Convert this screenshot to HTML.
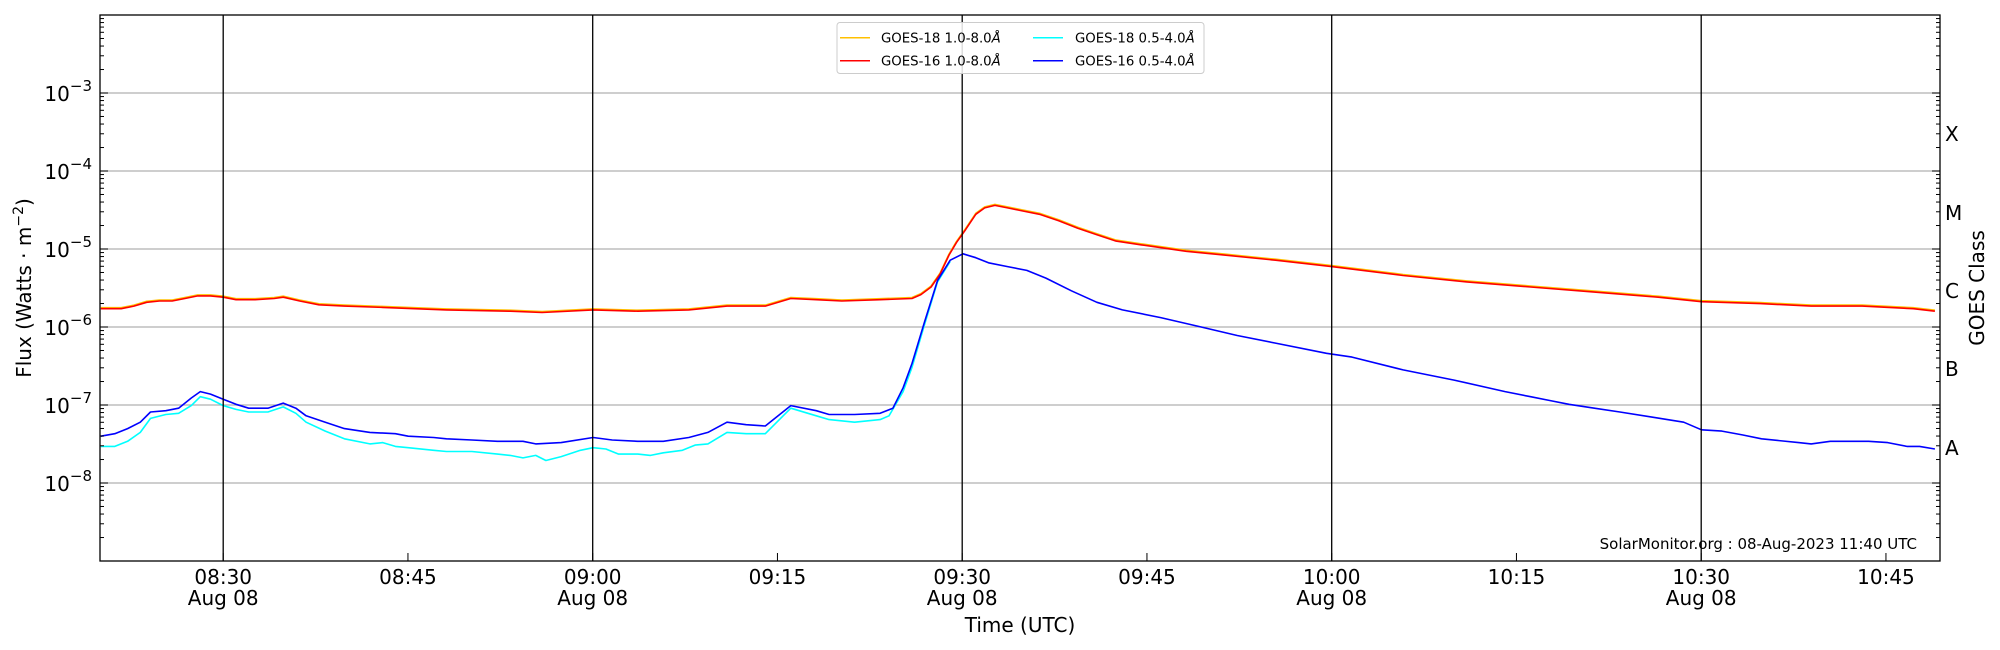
<!DOCTYPE html>
<html><head><meta charset="utf-8"><style>
html,body{margin:0;padding:0;background:#fff;}
svg{display:block;font-family:"DejaVu Sans","Liberation Sans",sans-serif;}
</style></head><body>
<svg id="s" width="2000" height="650" viewBox="0 0 2000 650" xmlns="http://www.w3.org/2000/svg">
<rect width="2000" height="650" fill="#fff"/>
<g id="grid"></g>
<g id="data" fill="none" stroke-width="1.6" stroke-linejoin="round"></g>
<g id="vl"></g>
<rect x="100" y="15" width="1840" height="546" fill="none" stroke="#000" stroke-width="1.3"/>
<g id="ticks" stroke="#000" stroke-width="1"></g>
<g id="lab" font-size="19" fill="#000"></g>
<text x="1917" y="549" font-size="15" text-anchor="end">SolarMonitor.org : 08-Aug-2023 11:40 UTC</text>
<text x="1020" y="632" font-size="20" text-anchor="middle">Time (UTC)</text>
<text transform="translate(31,288) rotate(-90)" font-size="20" text-anchor="middle">Flux (Watts · m<tspan dy="-8" font-size="14">−2</tspan><tspan dy="8">)</tspan></text>
<text transform="translate(1984,288) rotate(-90)" font-size="20" text-anchor="middle">GOES Class</text>
<g font-size="20">
<text x="1945" y="141">X</text><text x="1945" y="220">M</text><text x="1945" y="298">C</text><text x="1945" y="376">B</text><text x="1945" y="455">A</text>
</g>
<g>
<rect x="837" y="22.5" width="367" height="51" rx="3" fill="#fff" fill-opacity="0.85" stroke="#ccc"/>
<line x1="840" y1="37.7" x2="870" y2="37.7" stroke="#ffc000" stroke-width="1.5"/>
<line x1="840" y1="60.7" x2="870" y2="60.7" stroke="#ff0000" stroke-width="1.5"/>
<line x1="1033" y1="37.7" x2="1063" y2="37.7" stroke="#00ffff" stroke-width="1.5"/>
<line x1="1033" y1="60.7" x2="1063" y2="60.7" stroke="#0000ff" stroke-width="1.5"/>
<g font-size="13.3">
<text x="881" y="42.5">GOES-18 1.0-8.0<tspan font-style="italic">Å</tspan></text>
<text x="881" y="65.5">GOES-16 1.0-8.0<tspan font-style="italic">Å</tspan></text>
<text x="1075" y="42.5">GOES-18 0.5-4.0<tspan font-style="italic">Å</tspan></text>
<text x="1075" y="65.5">GOES-16 0.5-4.0<tspan font-style="italic">Å</tspan></text>
</g></g>
</svg>
<script>
var NS="http://www.w3.org/2000/svg",S=1.2755;
function el(p,t,a,txt){var e=document.createElementNS(NS,t);for(var k in a)e.setAttribute(k,a[k]);if(txt)e.textContent=txt;document.getElementById(p).appendChild(e);return e;}
var B=561,D=78;
for(var d=-8;d<=-3;d++){var y=B-(d+9)*D;el("grid","line",{x1:100,x2:1940,y1:y,y2:y,stroke:"#b0b0b0","stroke-width":1.2});
 var t=el("lab","text",{x:92,y:y+8,"text-anchor":"end","font-size":"20"});t.innerHTML='10<tspan dy="-10" font-size="15">−'+(-d)+'</tspan>';}
for(var d=-9;d<-2;d++){for(var k=1;k<=9;k++){var y=B-(d+9+Math.log10(k))*D;if(y<15.5||y>560.5)continue;var L=k==1?8:4;
 el("ticks","line",{x1:100,x2:100+L,y1:y,y2:y});el("ticks","line",{x1:1940,x2:1940-L,y1:y,y2:y});}}
var labs=["08:30","08:45","09:00","09:15","09:30","09:45","10:00","10:15","10:30","10:45"];
for(var i=0;i<10;i++){var x=223.2+i*184.75;el("ticks","line",{x1:x,x2:x,y1:561,y2:553});
 el("lab","text",{x:x,y:584,"text-anchor":"middle","font-size":"20"},labs[i]);if(i%2==0){el("lab","text",{x:x,y:605,"text-anchor":"middle","font-size":"20"},"Aug 08");
 el("vl","line",{x1:x,x2:x,y1:15,y2:561,stroke:"#000","stroke-width":1.3});}}
function P(a,c,dx,dy){var s="";for(var i=0;i<a.length;i+=2)s+=(i?"L":"M")+(a[i]*S+(dx||0)).toFixed(1)+","+(a[i+1]*S+(dy||0)).toFixed(1);el("data","path",{d:s,stroke:c});}
var red=[79,242,95,242,105,240,115,237,125,236,135,236,145,234,155,232,165,232,175,233,185,235,200,235,215,234,222,233,235,236,250,239,270,240,300,241,350,243,400,244,425,245,465,243,500,244,540,243,570,240,600,240,620,234,640,235,660,236,690,235,715,234,722,231,730,225,737,215,744,200,750,190,757,180,765,168,772,163,780,161,790,163,800,165,815,168,830,173,845,179,860,184,875,189,895,192,930,197,960,200,1000,204,1044,209,1100,216,1150,221,1200,225,1250,229,1300,233,1334,236.5,1380,238,1420,240,1460,240,1500,242,1517,244];
var blue=[79,342,90,340,100,336,110,331,118,323,130,322,140,320,150,312,157,307,165,309,175,313,185,317,195,320,210,320,222,316,232,320,240,326,255,331,270,336,290,339,310,340,320,342,340,343,350,344,370,345,390,346,410,346,420,348,440,347,465,343,480,345,500,346,520,346,540,343,555,339,570,331,585,333,600,334,620,318,640,322,650,325,670,325,690,324,700,320,708,304,715,285,725,252,735,220,745,204,755,199,765,202,775,206,790,209,805,212,820,218,840,228,860,237,880,243,910,249,940,256,970,263,1000,269,1040,277,1060,280,1100,290,1140,298,1180,307,1200,311,1215,314,1230,317,1250,320,1270,323,1295,327,1320,331,1334,337,1350,338,1366,341,1381,344,1410,347,1420,348,1435,346,1465,346,1480,347,1495,350,1505,350,1517,352];
var cyan=[79,350,90,350,100,346,110,339,118,328,130,325,140,324,150,318,157,311,165,313,175,318,185,321,195,323,210,323,222,319,232,324,240,331,255,338,270,344,290,348,300,347,310,350,320,351,340,353,350,354,370,354,390,356,400,357,410,359,420,357,428,361,440,358,455,353,465,351,475,352,485,356,500,356,510,357,520,355,535,353,545,349,555,348,570,339,585,340,600,340,620,320,640,326,650,329,670,331,690,329,697,326,708,307,715,288,725,254,735,221,745,205];
P(red,"#ffc000",0,-1);P(cyan,"#00ffff");P(red,"#ff0000");P(blue,"#0000ff");
</script>
</body></html>
